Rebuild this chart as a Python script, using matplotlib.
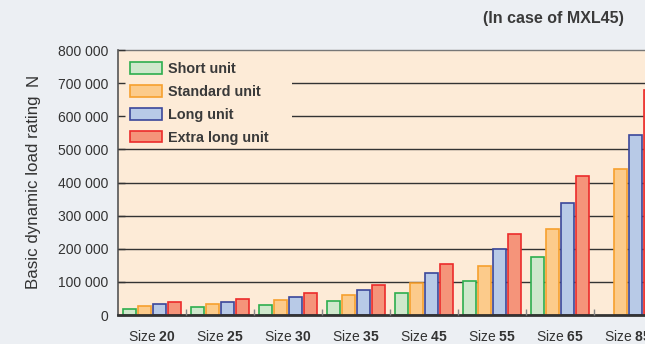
import matplotlib
matplotlib.use('Agg')
import matplotlib.pyplot as plt
from matplotlib.patches import Patch, Rectangle
from matplotlib.ticker import FuncFormatter
import numpy as np

plt.rcParams['font.family'] = ['Liberation Sans', 'DejaVu Sans']
plt.rcParams['font.size'] = 10
plt.rcParams['mathtext.fontset'] = 'custom'
plt.rcParams['mathtext.rm'] = 'Liberation Sans'
plt.rcParams['mathtext.bf'] = 'Liberation Sans:bold'

# basic dynamic load rating [N], MXL45 rail
sizes = ['20', '25', '30', '35', '45', '55', '65', '85']
short_unit = [17000, 23000, 30000, 41000, 66000, 102000, 175000, np.nan]
standard_unit = [26000, 33000, 45000, 59000, 97000, 149000, 261000, 440000]
long_unit = [32000, 40000, 55000, 76000, 126000, 199000, 337000, 543000]
extra_long_unit = [39000, 49000, 67000, 92000, 153000, 246000, 420000, 678000]

series = [
    ('Short unit', short_unit, '#cfe8cc', '#2eae4e'),
    ('Standard unit', standard_unit, '#fccb8b', '#f6a02e'),
    ('Long unit', long_unit, '#b8cae7', '#3b479a'),
    ('Extra long unit', extra_long_unit, '#f5947a', '#ec2b2b'),
]
offsets = [-0.33, -0.11, 0.11, 0.33]
txt = '#333333'

fig = plt.figure(figsize=(6.45, 3.44), dpi=100)
fig.patch.set_facecolor('#eceff3')
ax = fig.add_axes([0.183, 0.0843, 0.817, 0.7703])
ax.set_facecolor('#fdebd7')

x = np.arange(len(sizes))
for (name, vals, fc, ec), off in zip(series, offsets):
    ax.bar(x + off, vals, width=0.2, color=fc, edgecolor=ec, linewidth=1.2,
           zorder=2, label=name)

# horizontal rules, hidden behind the legend area
for v in range(100000, 800000, 100000):
    ax.axhline(v, color='#333333', linewidth=1.0, zorder=0.5)
ax.add_patch(Rectangle((0, 0.64), 0.33, 0.37, transform=ax.transAxes,
                       facecolor='#fdebd7', edgecolor='none', zorder=0.8))

ax.set_xlim(-0.5, 7.25)
ax.set_ylim(0, 800000)
ax.set_axisbelow(False)

ax.set_yticks(range(0, 800001, 100000))
ax.yaxis.set_major_formatter(FuncFormatter(lambda v, p: f'{int(v):,}'.replace(',', ' ')))
ax.tick_params(axis='y', direction='in', length=5, width=1, color='#333333',
               pad=7, labelcolor=txt)

ax.set_xticks(x)
ax.set_xticklabels([f'Size $\\mathbf{{{s}}}$' for s in sizes])
ax.set_xticks(x[:-1] + 0.5, minor=True)
ax.tick_params(axis='x', which='major', length=0, pad=10, labelcolor=txt)
ax.tick_params(axis='x', which='minor', direction='in', length=4, width=1,
               color='#888888')

ax.spines['right'].set_visible(False)
ax.spines['top'].set_color('#777777')
ax.spines['top'].set_linewidth(1.0)
ax.spines['left'].set_color('#555555')
ax.spines['left'].set_linewidth(1.2)
ax.spines['bottom'].set_color('#333333')
ax.spines['bottom'].set_linewidth(2.0)

handles = [Patch(facecolor=fc, edgecolor=ec, linewidth=1.2, label=name)
           for name, vals, fc, ec in series]
ax.legend(handles=handles, loc='upper left', bbox_to_anchor=(0.023, 0.955),
          frameon=False, borderpad=0, borderaxespad=0, handlelength=2.2,
          handleheight=0.83, handletextpad=0.42, labelspacing=0.62,
          prop={'size': 10.4, 'weight': 'bold'}, labelcolor='#3a3a3a')

fig.text(0.052, 0.442, 'Basic dynamic load rating', rotation=90,
         ha='center', va='center', color=txt, fontsize=12.2)
fig.text(0.052, 0.767, 'N', rotation=90, ha='center', va='center',
         color=txt, fontsize=12.2)
fig.text(0.967, 0.945, '(In case of MXL45)', ha='right', va='center',
         color='#3a3a3a', fontsize=11.5, fontweight='bold')

fig.savefig('out.png', dpi=100, facecolor=fig.get_facecolor())
